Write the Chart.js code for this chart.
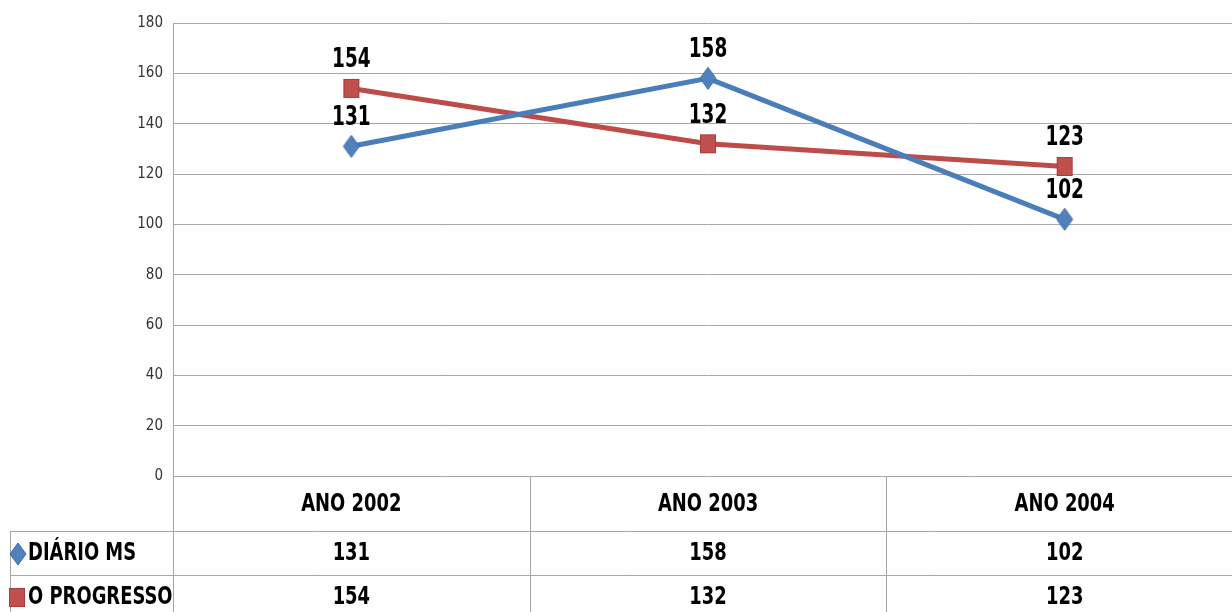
<!DOCTYPE html>
<html>
<head>
<meta charset="utf-8">
<script src="https://cdn.jsdelivr.net/npm/chart.js@4/dist/chart.umd.min.js"></script>
<style>
    body { margin: 0; overflow: hidden; background: #fff; }
    #wrap { width: 1252px; height: 612px; }
</style>
</head>
<body>
<div id="wrap"><canvas id="chart" width="1252" height="612"></canvas></div>
<script>
// Chart data
const categories = ['ANO 2002', 'ANO 2003', 'ANO 2004'];
const seriesNames = ['DIÁRIO MS', 'O PROGRESSO'];
const diarioMs = [131, 158, 102];
const oProgresso = [154, 132, 123];
const yTicks = [0, 20, 40, 60, 80, 100, 120, 140, 160, 180];

const BLUE = '#4A7EBB';
const RED = '#BE4B48';
const GRID = '#A6A6A6';
const FONT = '"DejaVu Sans Condensed", "Liberation Sans", sans-serif';

// Narrow text: the reference uses a tall condensed face
function fillNarrow(ctx, text, x, y, sx) {
    ctx.save();
    ctx.translate(x, y);
    ctx.scale(sx, 1);
    ctx.fillText(text, 0, 0);
    ctx.restore();
}

// Marker images (slightly taller than wide, as in the picture)
function makeDiamond(w, h, fill, stroke) {
    const c = document.createElement('canvas');
    c.width = w + 2; c.height = h + 2;
    const g = c.getContext('2d');
    g.beginPath();
    g.moveTo(c.width / 2, 1);
    g.lineTo(c.width - 1, c.height / 2);
    g.lineTo(c.width / 2, c.height - 1);
    g.lineTo(1, c.height / 2);
    g.closePath();
    g.fillStyle = fill;
    g.fill();
    g.strokeStyle = stroke;
    g.stroke();
    return c;
}

function makeSquare(w, h, fill, stroke) {
    const c = document.createElement('canvas');
    c.width = w + 2; c.height = h + 2;
    const g = c.getContext('2d');
    g.fillStyle = fill;
    g.fillRect(1, 1, w, h);
    g.strokeStyle = stroke;
    g.strokeRect(1.5, 1.5, w - 1, h - 1);
    return c;
}

const diamondImg = makeDiamond(16, 22, '#4F81BD', '#3C6DA6');
const squareImg = makeSquare(16, 19, '#C0504D', '#A33F3C');

// Draws the value labels above the points and the data table under the plot
const tablePlugin = {
    id: 'dataTable',
    afterDatasetsDraw(chart) {
        const ctx = chart.ctx;
        ctx.save();
        ctx.fillStyle = '#000';
        ctx.font = 'bold 27px ' + FONT;
        ctx.textAlign = 'center';
        ctx.textBaseline = 'alphabetic';
        chart.data.datasets.forEach((ds, i) => {
            const meta = chart.getDatasetMeta(i);
            meta.data.forEach((pt, j) => {
                fillNarrow(ctx, String(ds.data[j]), pt.x, pt.y - 21, 0.76);
            });
        });
        ctx.restore();
    },
    afterDraw(chart) {
        const ctx = chart.ctx;
        const area = chart.chartArea;
        const xScale = chart.scales.x;
        const rowTop = area.bottom;
        const row1 = 531, row2 = 575, rowEnd = 640;
        const left = 10;
        const step = xScale.getPixelForValue(1) - xScale.getPixelForValue(0);

        ctx.save();
        ctx.strokeStyle = GRID;
        ctx.lineWidth = 1;
        ctx.beginPath();
        // horizontal rules
        [row1, row2].forEach(y => {
            ctx.moveTo(left, y + 0.5);
            ctx.lineTo(area.right, y + 0.5);
        });
        // vertical rules
        ctx.moveTo(Math.round(area.left) + 0.5, rowTop);
        ctx.lineTo(Math.round(area.left) + 0.5, rowEnd);
        ctx.moveTo(left + 0.5, row1);
        ctx.lineTo(left + 0.5, rowEnd);
        for (let i = 1; i < categories.length; i++) {
            const x = Math.round(xScale.getPixelForValue(i) - step / 2) + 0.5;
            ctx.moveTo(x, rowTop);
            ctx.lineTo(x, rowEnd);
        }
        ctx.stroke();

        ctx.fillStyle = '#000';
        ctx.font = 'bold 24px ' + FONT;
        ctx.textBaseline = 'middle';
        ctx.textAlign = 'center';
        categories.forEach((c, i) => {
            fillNarrow(ctx, c, xScale.getPixelForValue(i), (rowTop + row1) / 2 + 1, 0.83);
        });
        const rows = [[diarioMs, (row1 + row2) / 2 + 1], [oProgresso, (row2 + 612) / 2 + 4]];
        rows.forEach(([vals, y]) => {
            vals.forEach((v, i) => {
                fillNarrow(ctx, String(v), xScale.getPixelForValue(i), y, 0.83);
            });
        });

        // legend keys and series names
        ctx.textAlign = 'left';
        rows.forEach(([, y], i) => {
            const img = i === 0 ? diamondImg : squareImg;
            ctx.drawImage(img, i === 0 ? 9 : 8, Math.round(y - img.height / 2));
            ctx.fillStyle = '#000';
            fillNarrow(ctx, seriesNames[i], 28, y, 0.83);
        });
        ctx.restore();
    }
};

new Chart(document.getElementById('chart'), {
    type: 'line',
    data: {
        labels: categories,
        datasets: [
            {
                label: seriesNames[0],
                data: diarioMs,
                borderColor: BLUE,
                backgroundColor: '#4F81BD',
                borderWidth: 5,
                pointStyle: diamondImg,
                tension: 0
            },
            {
                label: seriesNames[1],
                data: oProgresso,
                borderColor: RED,
                backgroundColor: '#C0504D',
                borderWidth: 5,
                pointStyle: squareImg,
                tension: 0
            }
        ]
    },
    options: {
        responsive: false,
        animation: false,
        layout: { padding: { left: 0, right: 0, top: 23, bottom: 136 } },
        plugins: {
            legend: { display: false },
            tooltip: { enabled: false }
        },
        scales: {
            x: {
                display: true,
                offset: true,
                grid: { display: false, drawTicks: false },
                border: { display: false },
                ticks: { display: false }
            },
            y: {
                min: 0,
                max: 180,
                afterBuildTicks(scale) {
                    scale.ticks = yTicks.map(v => ({ value: v }));
                },
                afterFit(scale) { scale.width = 173; },
                grid: { color: GRID, drawTicks: false, lineWidth: 1 },
                border: { display: true, color: GRID },
                ticks: {
                    padding: 10,
                    color: '#333',
                    font: { family: FONT, size: 15 }
                }
            }
        }
    },
    plugins: [tablePlugin]
});
</script>
</body>
</html>
